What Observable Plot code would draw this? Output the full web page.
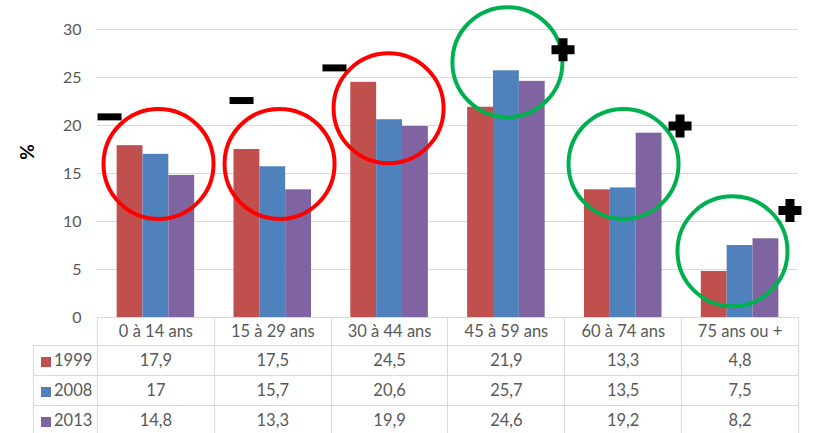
<!DOCTYPE html>
<html>
<head>
<meta charset="utf-8">
<script src="https://cdn.jsdelivr.net/npm/d3@7"></script>
<script src="https://cdn.jsdelivr.net/npm/@observablehq/plot@0.6"></script>
<style>
  body { margin: 0; background: #fff; }
  #wrap { position: relative; width: 813px; height: 433px; overflow: hidden; font-family: Lato, "Open Sans", sans-serif; }
  #wrap svg { position: absolute; left: 0; top: 0; }
  #ylab { position: absolute; left: 26px; top: 152px; transform: translate(-50%, -50%) rotate(-90deg); font: bold 19px Lato, sans-serif; color: #000; }
  #tbl { position: absolute; left: 33px; top: 317px; border-collapse: collapse; table-layout: fixed; width: 765px; color: #595959; font-size: 16.5px; font-family: Lato, sans-serif; }
  #tbl td { border: 1px solid #D9D9D9; padding: 0; text-align: center; height: 29px; line-height: 29px; }
  #tbl tr.head td { height: 27px; }
  #tbl tr.head td.corner { border-top: none; border-left: none; }
  #tbl td.leg { text-align: left; }
  #tbl .sw { display: inline-block; width: 10px; height: 10px; margin-left: 7px; margin-right: 3px; vertical-align: -1px; }
</style>
</head>
<body>
<div id="wrap"><div id="ylab">%</div></div>
<script>
// ---- data ----
const categories = ["0 à 14 ans", "15 à 29 ans", "30 à 44 ans", "45 à 59 ans", "60 à 74 ans", "75 ans ou +"];
const years = ["1999", "2008", "2013"];
const values1999 = [17.9, 17.5, 24.5, 21.9, 13.3, 4.8];
const values2008 = [17, 15.7, 20.6, 25.7, 13.5, 7.5];
const values2013 = [14.8, 13.3, 19.9, 24.6, 19.2, 8.2];
const yTicks = [0, 5, 10, 15, 20, 25, 30];
// annotations: trend per age group, circle centre and sign level (in %)
const trend = ["-", "-", "-", "+", "+", "+"];
const circleY = [16.0, 16.0, 21.8, 26.6, 16.0, 6.9];
const signY = [20.9, 22.6, 26.0, 27.9, 19.95, 11.15];

// ---- styles ----
const colors = ["#C0504D", "#4F81BD", "#8064A2"];
const circleColor = {"-": "#FF0000", "+": "#00B050"};
const circleDx = [2.6, 6.8, -1, 1, 0.3, -7.6];
const signDx = [-46.4, -31.2, -55.1, 56.6, 56.8, 49.9];

const series = [values1999, values2008, values2013];
const rows = [];
categories.forEach((c, i) => years.forEach((y, j) => rows.push({cat: c, year: y, value: series[j][i]})));
const ann = categories.map((c, i) => ({cat: c, trend: trend[i], cy: circleY[i], sy: signY[i]}));

const minusSymbol = {draw(ctx) { ctx.moveTo(-12, -3.5); ctx.lineTo(12, -3.5); ctx.lineTo(12, 3.5); ctx.lineTo(-12, 3.5); ctx.closePath(); }};
const plusSymbol = {draw(ctx) {
  const a = 4.5, b = 11.5;
  ctx.moveTo(-a, -b); ctx.lineTo(a, -b); ctx.lineTo(a, -a); ctx.lineTo(b, -a); ctx.lineTo(b, a); ctx.lineTo(a, a);
  ctx.lineTo(a, b); ctx.lineTo(-a, b); ctx.lineTo(-a, a); ctx.lineTo(-b, a); ctx.lineTo(-b, -a); ctx.lineTo(-a, -a); ctx.closePath();
}};

const annMarks = [];
ann.forEach((d, i) => {
  annMarks.push(Plot.dot([d], {fx: "cat", y: "cy", r: 55, dx: circleDx[i], fill: "none", stroke: circleColor[d.trend], strokeWidth: 4}));
  annMarks.push(Plot.dot([d], {fx: "cat", y: "sy", dx: signDx[i], symbol: d.trend === "-" ? minusSymbol : plusSymbol, fill: "#000", stroke: "none"}));
});

const chart = Plot.plot({
  width: 813, height: 433,
  marginLeft: 97, marginRight: 15, marginTop: 29, marginBottom: 116,
  style: {fontFamily: "Lato, sans-serif", color: "#595959", background: "transparent", overflow: "visible"},
  fx: {domain: categories, paddingInner: 0, paddingOuter: 0, round: false, label: null},
  x: {domain: years, paddingInner: 0, paddingOuter: 0.76, round: false, axis: null},
  y: {domain: [0, 30], label: null},
  color: {domain: years, range: colors},
  marks: [
    Plot.gridY(yTicks, {stroke: "#D9D9D9", strokeOpacity: 1}),
    Plot.axisY(yTicks, {tickSize: 0, tickPadding: 16, fontSize: 16, label: null}),
    Plot.axisFx({anchor: "bottom", tickSize: 0, tickPadding: 8, fontSize: 16.5, label: null}),
    Plot.barY(rows, {fx: "cat", x: "year", y: "value", fill: "year"}),
    ...annMarks
  ]
});
const wrap = document.getElementById("wrap");
wrap.appendChild(chart);

// data table below the chart
const fmt = v => String(v).replace(".", ",");
const table = d3.select(wrap).append("table").attr("id", "tbl");
const cg = table.append("colgroup");
cg.append("col").style("width", "64px");
categories.forEach(() => cg.append("col").style("width", (701 / 6) + "px"));
const head = table.append("tr").attr("class", "head");
head.append("td").attr("class", "corner");
categories.forEach(() => head.append("td"));
years.forEach((y, j) => {
  const tr = table.append("tr");
  const lc = tr.append("td").attr("class", "leg");
  lc.append("span").attr("class", "sw").style("background", colors[j]);
  lc.append("span").text(y);
  series[j].forEach(v => tr.append("td").text(fmt(v)));
});
</script>
</body>
</html>
